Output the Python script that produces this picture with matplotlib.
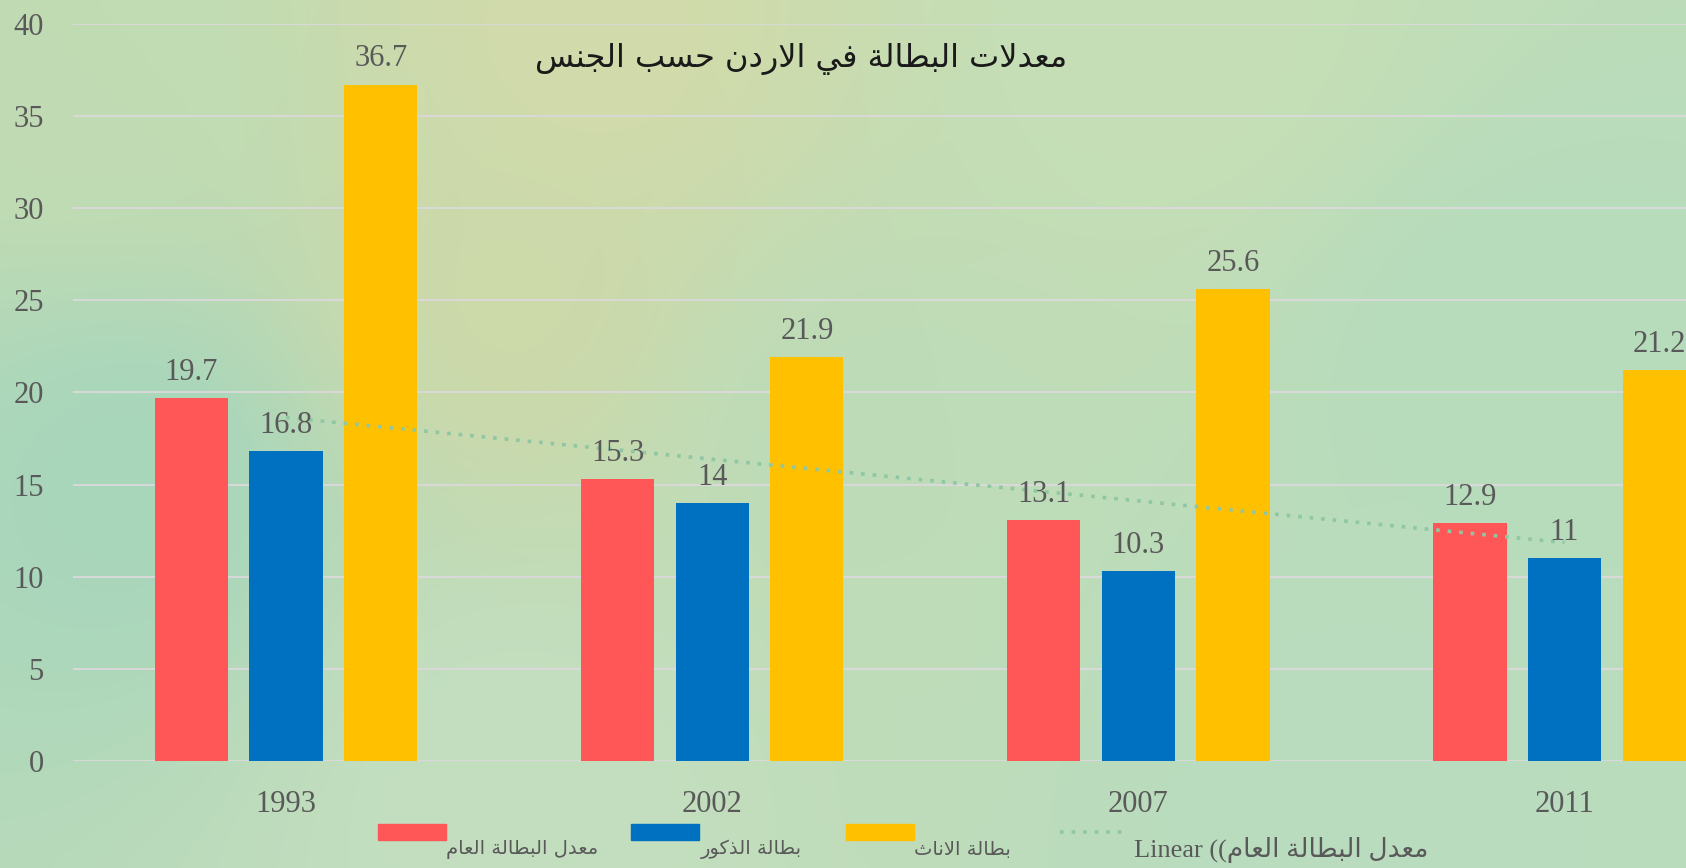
"""Unemployment rates in Jordan by sex, grouped bar chart."""

import matplotlib
matplotlib.use("Agg")
import matplotlib.pyplot as plt
import numpy as np
from matplotlib.colors import to_rgb
from matplotlib.patches import Rectangle
from matplotlib.lines import Line2D

years = ["1993", "2002", "2007", "2011"]
general_rate = [19.7, 15.3, 13.1, 12.9]
male_rate = [16.8, 14, 10.3, 11]
female_rate = [36.7, 21.9, 25.6, 21.2]
yticks = [0, 5, 10, 15, 20, 25, 30, 35, 40]

title_text = "معدلات البطالة في الاردن حسب الجنس"
series_names = ["معدل البطالة العام", "بطالة الذكور", "بطالة الاناث"]
trend_name = "معدل البطالة العام"

COLORS = ["#ff5757", "#0070c0", "#ffc000"]
TREND_COLOR = "#8fc7a3"
TEXT_GRAY = "#595959"
GRID = "#d9d9d9"

# presentation forms: isolated, final, initial, medial (None = no such form)
FORMS = {
    "ا": ("\ufe8d", "\ufe8e", None, None),
    "ب": ("\ufe8f", "\ufe90", "\ufe91", "\ufe92"),
    "ة": ("\ufe93", "\ufe94", None, None),
    "ت": ("\ufe95", "\ufe96", "\ufe97", "\ufe98"),
    "ث": ("\ufe99", "\ufe9a", "\ufe9b", "\ufe9c"),
    "ج": ("\ufe9d", "\ufe9e", "\ufe9f", "\ufea0"),
    "ح": ("\ufea1", "\ufea2", "\ufea3", "\ufea4"),
    "د": ("\ufea9", "\ufeaa", None, None),
    "ذ": ("\ufeab", "\ufeac", None, None),
    "ر": ("\ufead", "\ufeae", None, None),
    "س": ("\ufeb1", "\ufeb2", "\ufeb3", "\ufeb4"),
    "ط": ("\ufec1", "\ufec2", "\ufec3", "\ufec4"),
    "ع": ("\ufec9", "\ufeca", "\ufecb", "\ufecc"),
    "ف": ("\ufed1", "\ufed2", "\ufed3", "\ufed4"),
    "ك": ("\ufed9", "\ufeda", "\ufedb", "\ufedc"),
    "ل": ("\ufedd", "\ufede", "\ufedf", "\ufee0"),
    "م": ("\ufee1", "\ufee2", "\ufee3", "\ufee4"),
    "ن": ("\ufee5", "\ufee6", "\ufee7", "\ufee8"),
    "و": ("\ufeed", "\ufeee", None, None),
    "ي": ("\ufef1", "\ufef2", "\ufef3", "\ufef4"),
}


def shape_arabic(text: str) -> str:
    """Minimal Arabic joining + RTL reordering for matplotlib."""
    # merge lam + alef into one token
    tokens = []
    i = 0
    while i < len(text):
        if text[i] == "ل" and i + 1 < len(text) and text[i + 1] == "ا":
            tokens.append("LA")
            i += 2
        else:
            tokens.append(text[i])
            i += 1

    def joins_next(tok):
        return tok in FORMS and FORMS[tok][2] is not None

    def is_letter(tok):
        return tok in FORMS or tok == "LA"

    out = []
    for k, tok in enumerate(tokens):
        prev = tokens[k - 1] if k > 0 else None
        nxt = tokens[k + 1] if k + 1 < len(tokens) else None
        left = prev is not None and joins_next(prev)
        if tok == "LA":
            out.append("\ufefc" if left else "\ufefb")
            continue
        if tok not in FORMS:
            out.append(tok)
            continue
        right = joins_next(tok) and nxt is not None and is_letter(nxt)
        iso, fin, ini, med = FORMS[tok]
        if left and right:
            out.append(med)
        elif left:
            out.append(fin)
        elif right:
            out.append(ini)
        else:
            out.append(iso)
    return "".join(reversed(out))


def _background(fig) -> None:
    anchors = [
        (0.05, 0.10, "#c1dcb3"), (0.35, 0.05, "#d2dbaa"), (0.70, 0.05, "#c6dfb6"),
        (0.08, 0.55, "#a7d6bc"), (0.50, 0.50, "#bddcb8"), (0.90, 0.40, "#b6dcbc"),
        (0.30, 0.90, "#c3dfc0"), (0.80, 0.90, "#b9dcbf"), (0.30, 0.35, "#cdd9a9"),
    ]
    h, w = 90, 175
    yy, xx = np.mgrid[0:1:h * 1j, 0:1:w * 1j]
    img = np.zeros((h, w, 3))
    weights = np.zeros((h, w))
    for ax_, ay_, col in anchors:
        wgt = 1.0 / (((xx - ax_) * 1.9) ** 2 + (yy - ay_) ** 2 + 0.01) ** 1.5
        img += wgt[..., None] * np.array(to_rgb(col))
        weights += wgt
    img /= weights[..., None]
    bg = fig.add_axes([0, 0, 1, 1], zorder=0)
    bg.imshow(img, aspect="auto", interpolation="bicubic", extent=(0, 1, 0, 1))
    bg.axis("off")


def main() -> None:
    fig = plt.figure(figsize=(16.86, 8.68), dpi=100)
    _background(fig)

    ax = fig.add_axes([0.0433, 0.123, 0.9567, 0.8497], zorder=1)
    ax.set_facecolor("none")

    x = np.arange(len(years))
    width = 0.172
    offsets = [-0.222, 0.0, 0.222]
    serif = "Liberation Serif"
    for values, color, off in zip([general_rate, male_rate, female_rate], COLORS, offsets):
        bars = ax.bar(x + off, values, width, color=color, zorder=2)
        for bar, val in zip(bars, values):
            ax.annotate(f"{val:g}", (bar.get_x() + bar.get_width() / 2, val),
                        xytext=(0, 8), textcoords="offset points", ha="center",
                        va="bottom", fontsize=22, family=serif, color=TEXT_GRAY, zorder=4)

    slope, intercept = np.polyfit(x, general_rate, 1)
    ax.plot(x, slope * x + intercept, linestyle=(0, (1, 2.2)), color=TREND_COLOR,
            linewidth=2.6, zorder=3)

    ax.set_ylim(0, 40)
    ax.set_xlim(-0.5, 3.285)
    ax.set_yticks(yticks)
    ax.set_xticks(x)
    ax.set_xticklabels(years)
    ax.yaxis.grid(True, color=GRID, linewidth=1.4, zorder=0)
    ax.set_axisbelow(True)
    for spine in ax.spines.values():
        spine.set_visible(False)
    ax.tick_params(axis="y", length=0, pad=21, labelsize=22, labelcolor=TEXT_GRAY)
    ax.tick_params(axis="x", length=0, pad=21, labelsize=22, labelcolor=TEXT_GRAY)
    for label in ax.get_xticklabels() + ax.get_yticklabels():
        label.set_family(serif)

    fig.text(0.475, 0.932, shape_arabic(title_text), ha="center", va="center",
             fontsize=23, family="DejaVu Sans", color="#1a1a1a")

    # manual legend (RTL labels sit lower-right of their swatches)
    patch_x = [0.2242, 0.3743, 0.5018]
    text_x = [0.2645, 0.4158, 0.5421]
    for px, tx, color, name in zip(patch_x, text_x, COLORS, series_names):
        fig.patches.append(Rectangle((px, 0.0323), 0.0403, 0.0184, color=color,
                                     transform=fig.transFigure, figure=fig))
        fig.text(tx, 0.021, shape_arabic(name), ha="left", va="center",
                 fontsize=14, family="DejaVu Sans", color=TEXT_GRAY)
    fig.lines.append(Line2D([0.6287, 0.6661], [0.0415, 0.0415], linestyle=(0, (1, 2.2)),
                            color=TREND_COLOR, linewidth=2.6,
                            transform=fig.transFigure, figure=fig))
    fig.text(0.6726, 0.021, "Linear ((" + shape_arabic(trend_name), ha="left",
             va="center", fontsize=19, family=[serif, "DejaVu Sans"], color=TEXT_GRAY)

    fig.savefig("out.png", dpi=100)
    plt.close(fig)


if __name__ == "__main__":
    main()
